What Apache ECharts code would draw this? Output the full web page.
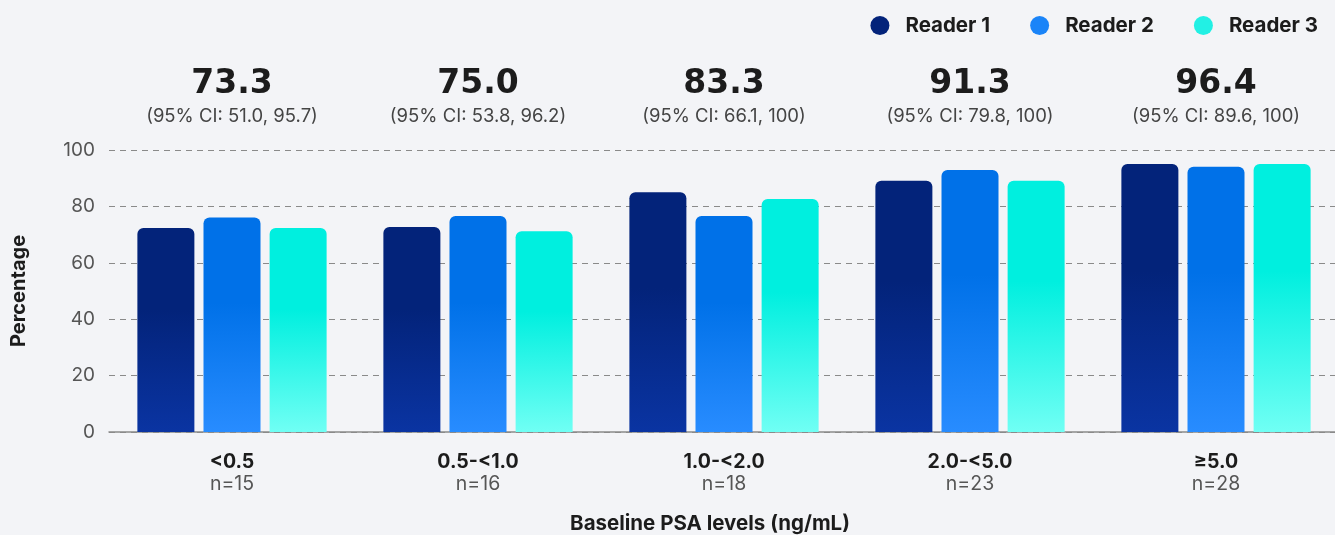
<!DOCTYPE html>
<html>
<head>
<meta charset="utf-8">
<script src="https://cdn.jsdelivr.net/npm/echarts@6/dist/echarts.min.js"></script>
<style>
html,body{margin:0;padding:0;background:#f3f4f7;}
#chart{width:1335px;height:535px;}
</style>
</head>
<body>
<div id="chart"></div>
<script>
var categories = ['<0.5', '0.5-<1.0', '1.0-<2.0', '2.0-<5.0', '≥5.0'];
var sampleSizes = ['n=15', 'n=16', 'n=18', 'n=23', 'n=28'];
var overallValues = ['73.3', '75.0', '83.3', '91.3', '96.4'];
var ciLabels = ['(95% CI: 51.0, 95.7)', '(95% CI: 53.8, 96.2)', '(95% CI: 66.1, 100)', '(95% CI: 79.8, 100)', '(95% CI: 89.6, 100)'];
var reader1 = [72.3, 72.7, 85.0, 89.1, 95.0];
var reader2 = [76.1, 76.6, 76.6, 92.9, 94.1];
var reader3 = [72.3, 71.2, 82.6, 89.1, 95.0];
var yTicks = [0, 20, 40, 60, 80, 100];

var FONT = 'Inter, "Noto Sans", sans-serif';
function grad(top, bottom) {
  return new echarts.graphic.LinearGradient(0, 0, 0, 1, [
    {offset: 0, color: top}, {offset: 0.4, color: top}, {offset: 1, color: bottom}
  ]);
}
var chart = echarts.init(document.getElementById('chart'));
var option = {
  backgroundColor: '#f3f4f7',
  animation: false,
  legend: {
    top: 10, right: 12,
    icon: 'circle', itemWidth: 19, itemHeight: 19, itemGap: 40,
    textStyle: {fontFamily: FONT, fontSize: 20.5, fontWeight: 'bold', color: '#1c1c1c', padding: [0, 0, 0, 11]},
    data: ['Reader 1', 'Reader 2', 'Reader 3']
  },
  grid: {left: 109, right: -4, top: 150, bottom: 103, outerBoundsMode: 'none', containLabel: false},
  xAxis: [{
    type: 'category', data: categories, position: 'bottom',
    axisLine: {lineStyle: {color: '#8a8a8a', width: 1.5}},
    axisTick: {show: false},
    axisLabel: {
      margin: 19, interval: 0,
      formatter: function (v, i) { return '{b|' + v + '}\n{n|' + sampleSizes[i] + '}'; },
      rich: {
        b: {fontFamily: FONT, fontSize: 19.5, fontWeight: 'bold', color: '#1c1c1c', lineHeight: 22},
        n: {fontFamily: FONT, fontSize: 19.5, color: '#555', lineHeight: 22}
      }
    },
    name: 'Baseline PSA levels (ng/mL)', nameLocation: 'middle', nameGap: 81,
    nameTextStyle: {fontFamily: FONT, fontSize: 20.5, fontWeight: 'bold', color: '#1c1c1c', padding: [0, 28, 0, 0]}
  }, {
    type: 'category', data: categories, position: 'top',
    axisLine: {show: false}, axisTick: {show: false},
    axisLabel: {
      margin: 22, interval: 0,
      formatter: function (v, i) { return '{v|' + overallValues[i] + '}\n{c|' + ciLabels[i] + '}'; },
      rich: {
        v: {fontFamily: '"DejaVu Sans", sans-serif', fontSize: 33, fontWeight: 'bold', color: '#1c1c1c', lineHeight: 40},
        c: {fontFamily: FONT, fontSize: 18.5, color: '#444', lineHeight: 24}
      }
    }
  }],
  yAxis: {
    type: 'value', min: 0, max: 100, interval: 20,
    axisLine: {show: false}, axisTick: {show: false},
    axisLabel: {margin: 14, fontFamily: FONT, fontSize: 19, color: '#555',
      formatter: function (v) { return yTicks.indexOf(v) >= 0 ? String(v) : ''; }},
    splitLine: {lineStyle: {color: '#8a8a8a', type: [6, 5], width: 1}},
    name: 'Percentage', nameLocation: 'middle', nameGap: 80, nameRotate: 90,
    nameTextStyle: {fontFamily: FONT, fontSize: 20, fontWeight: 'bold', color: '#1c1c1c'}
  },
  series: [
    {name: 'Reader 1', type: 'bar', data: reader1, barWidth: 57, barGap: '16%',
     itemStyle: {color: grad('#03237a', '#0a34a2'), borderRadius: [6, 6, 0, 0]}},
    {name: 'Reader 2', type: 'bar', data: reader2, barWidth: 57, barGap: '16%',
     itemStyle: {color: grad('#0071e8', '#288cff'), borderRadius: [6, 6, 0, 0]}},
    {name: 'Reader 3', type: 'bar', data: reader3, barWidth: 57, barGap: '16%',
     itemStyle: {color: grad('#00efdf', '#70fff4'), borderRadius: [6, 6, 0, 0]}}
  ]
};
option.legend.data = option.legend.data.map(function (n, i) {
  return {name: n, itemStyle: {color: ['#03237a', '#1a84f8', '#22f0e4'][i]}};
});
chart.setOption(option);
</script>
</body>
</html>
